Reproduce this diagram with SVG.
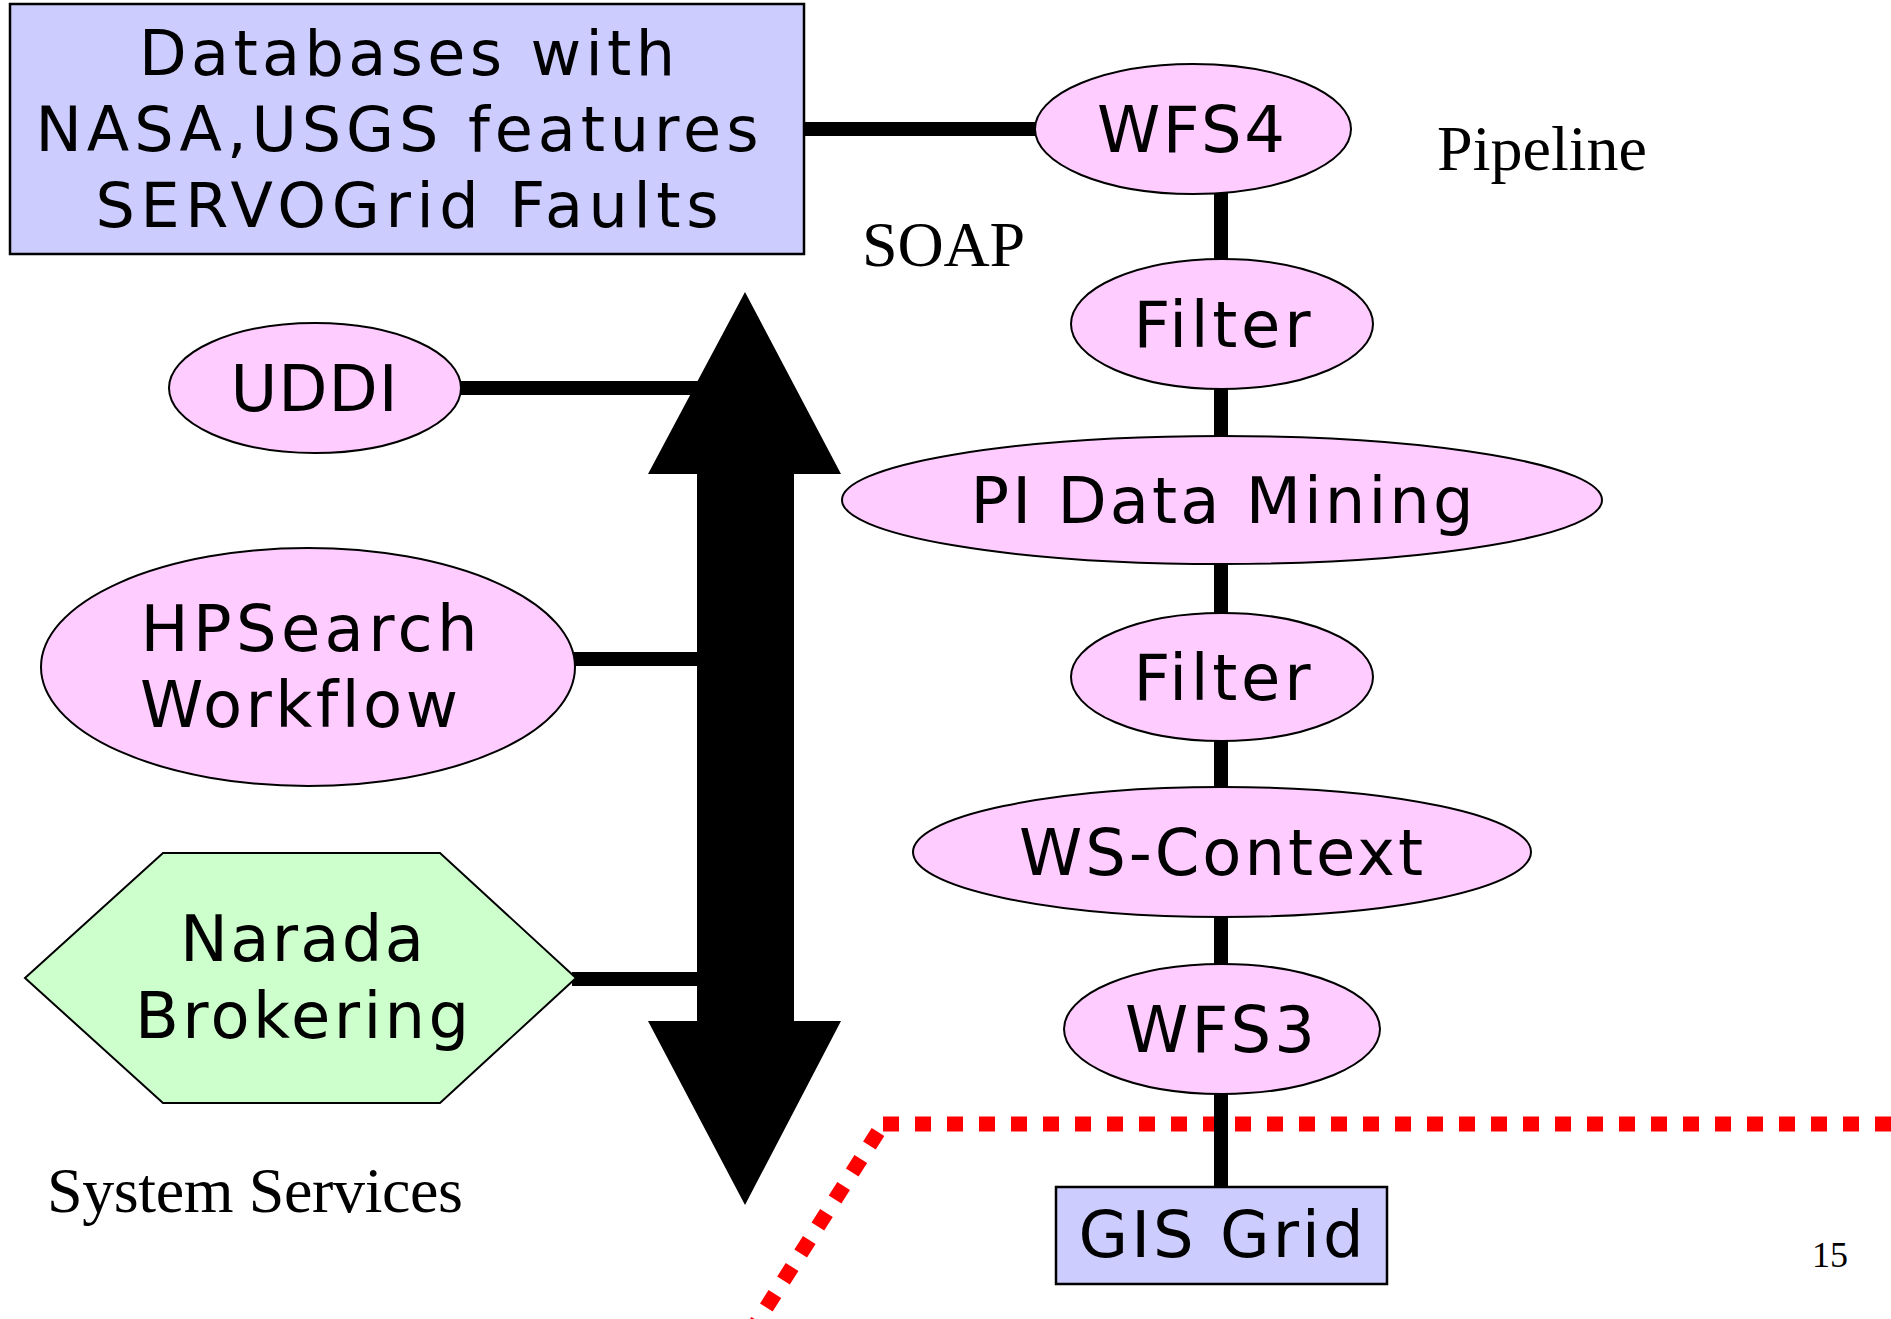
<svg xmlns="http://www.w3.org/2000/svg" width="1891" height="1319" viewBox="0 0 1891 1319">
<style>
.bg{fill:#ffffff}
.ell{fill:#FFCCFF;stroke:#000;stroke-width:2}
.box{fill:#CCCCFF;stroke:#000;stroke-width:2.5}
.hex{fill:#CCFFCC;stroke:#000;stroke-width:2}
.lbl{font-family:"DejaVu Sans","Liberation Sans",sans-serif;font-size:64px;fill:#000;text-anchor:middle;font-variant-ligatures:none}
.dbl{font-family:"DejaVu Sans","Liberation Sans",sans-serif;font-size:62px;fill:#000;text-anchor:middle;font-variant-ligatures:none}
.tm{font-family:"Liberation Serif","Times New Roman",serif;fill:#000}
.conn{stroke:#000;stroke-width:14;fill:none}
.red{stroke:#FF0000;stroke-width:15;fill:none;stroke-dasharray:16 16}
</style>
<rect class="bg" x="0" y="0" width="1891" height="1319"/>

<g id="boundary">
<path class="red" d="M1891,1124 L876,1124"/>
<path class="red" d="M878,1132 L752,1330"/>
</g>

<g id="connectors">
<line class="conn" x1="804" y1="129" x2="1040" y2="129"/>
<line class="conn" x1="1221" y1="190" x2="1221" y2="1188"/>
<line class="conn" x1="459" y1="388" x2="700" y2="388"/>
<line class="conn" x1="572" y1="659" x2="700" y2="659"/>
<line class="conn" x1="572" y1="979" x2="700" y2="979"/>
</g>

<g id="bus">
<polygon fill="#000" points="745,292 841,474 794,474 794,1021 841,1021 745,1205 648,1021 697,1021 697,474 648,474"/>
</g>

<g id="databases">
<rect class="box" x="10" y="4" width="794" height="250"/>
<text class="dbl" x="407" y="75" textLength="536" lengthAdjust="spacing">Databases with</text>
<text class="dbl" x="397" y="151" textLength="723" lengthAdjust="spacing">NASA,USGS features</text>
<text class="dbl" x="407" y="227" textLength="623" lengthAdjust="spacing">SERVOGrid Faults</text>
</g>

<g id="wfs4">
<ellipse class="ell" cx="1193" cy="129" rx="158" ry="65"/>
<text class="lbl" x="1191" y="152" textLength="188" lengthAdjust="spacing">WFS4</text>
</g>

<g id="filter1">
<ellipse class="ell" cx="1222" cy="324" rx="151" ry="65"/>
<text class="lbl" x="1222" y="347" textLength="177" lengthAdjust="spacing">Filter</text>
</g>

<g id="pidatamining">
<ellipse class="ell" cx="1222" cy="500" rx="380" ry="64"/>
<text class="lbl" x="1222" y="523" textLength="503" lengthAdjust="spacing">PI Data Mining</text>
</g>

<g id="filter2">
<ellipse class="ell" cx="1222" cy="677" rx="151" ry="64"/>
<text class="lbl" x="1222" y="700" textLength="177" lengthAdjust="spacing">Filter</text>
</g>

<g id="wscontext">
<ellipse class="ell" cx="1222" cy="852" rx="309" ry="65"/>
<text class="lbl" x="1221" y="875" textLength="404" lengthAdjust="spacing">WS-Context</text>
</g>

<g id="wfs3">
<ellipse class="ell" cx="1222" cy="1029" rx="158" ry="65"/>
<text class="lbl" x="1220" y="1052" textLength="190" lengthAdjust="spacing">WFS3</text>
</g>

<g id="gisgrid">
<rect class="box" x="1056" y="1187" width="331" height="97"/>
<text class="lbl" x="1221" y="1257" textLength="285" lengthAdjust="spacing">GIS Grid</text>
</g>

<g id="uddi">
<ellipse class="ell" cx="315" cy="388" rx="146" ry="65"/>
<text class="lbl" x="314" y="411" textLength="167" lengthAdjust="spacing">UDDI</text>
</g>

<g id="hpsearch">
<ellipse class="ell" cx="308" cy="667" rx="267" ry="119"/>
<text class="lbl" x="309" y="651" textLength="337" lengthAdjust="spacing">HPSearch</text>
<text class="lbl" x="299" y="727" textLength="318" lengthAdjust="spacing">Workflow</text>
</g>

<g id="narada">
<polygon class="hex" points="25,978 163,853 440,853 576,978 440,1103 163,1103"/>
<text class="lbl" x="302" y="961" textLength="244" lengthAdjust="spacing">Narada</text>
<text class="lbl" x="302" y="1038" textLength="334" lengthAdjust="spacing">Brokering</text>
</g>

<g id="labels">
<text class="tm" x="1437" y="170" font-size="64" textLength="210" lengthAdjust="spacing">Pipeline</text>
<text class="tm" x="862" y="266" font-size="64" textLength="163" lengthAdjust="spacing">SOAP</text>
<text class="tm" x="47" y="1212" font-size="64" textLength="416" lengthAdjust="spacing">System Services</text>
<text class="tm" x="1812" y="1267" font-size="36">15</text>
</g>
</svg>
